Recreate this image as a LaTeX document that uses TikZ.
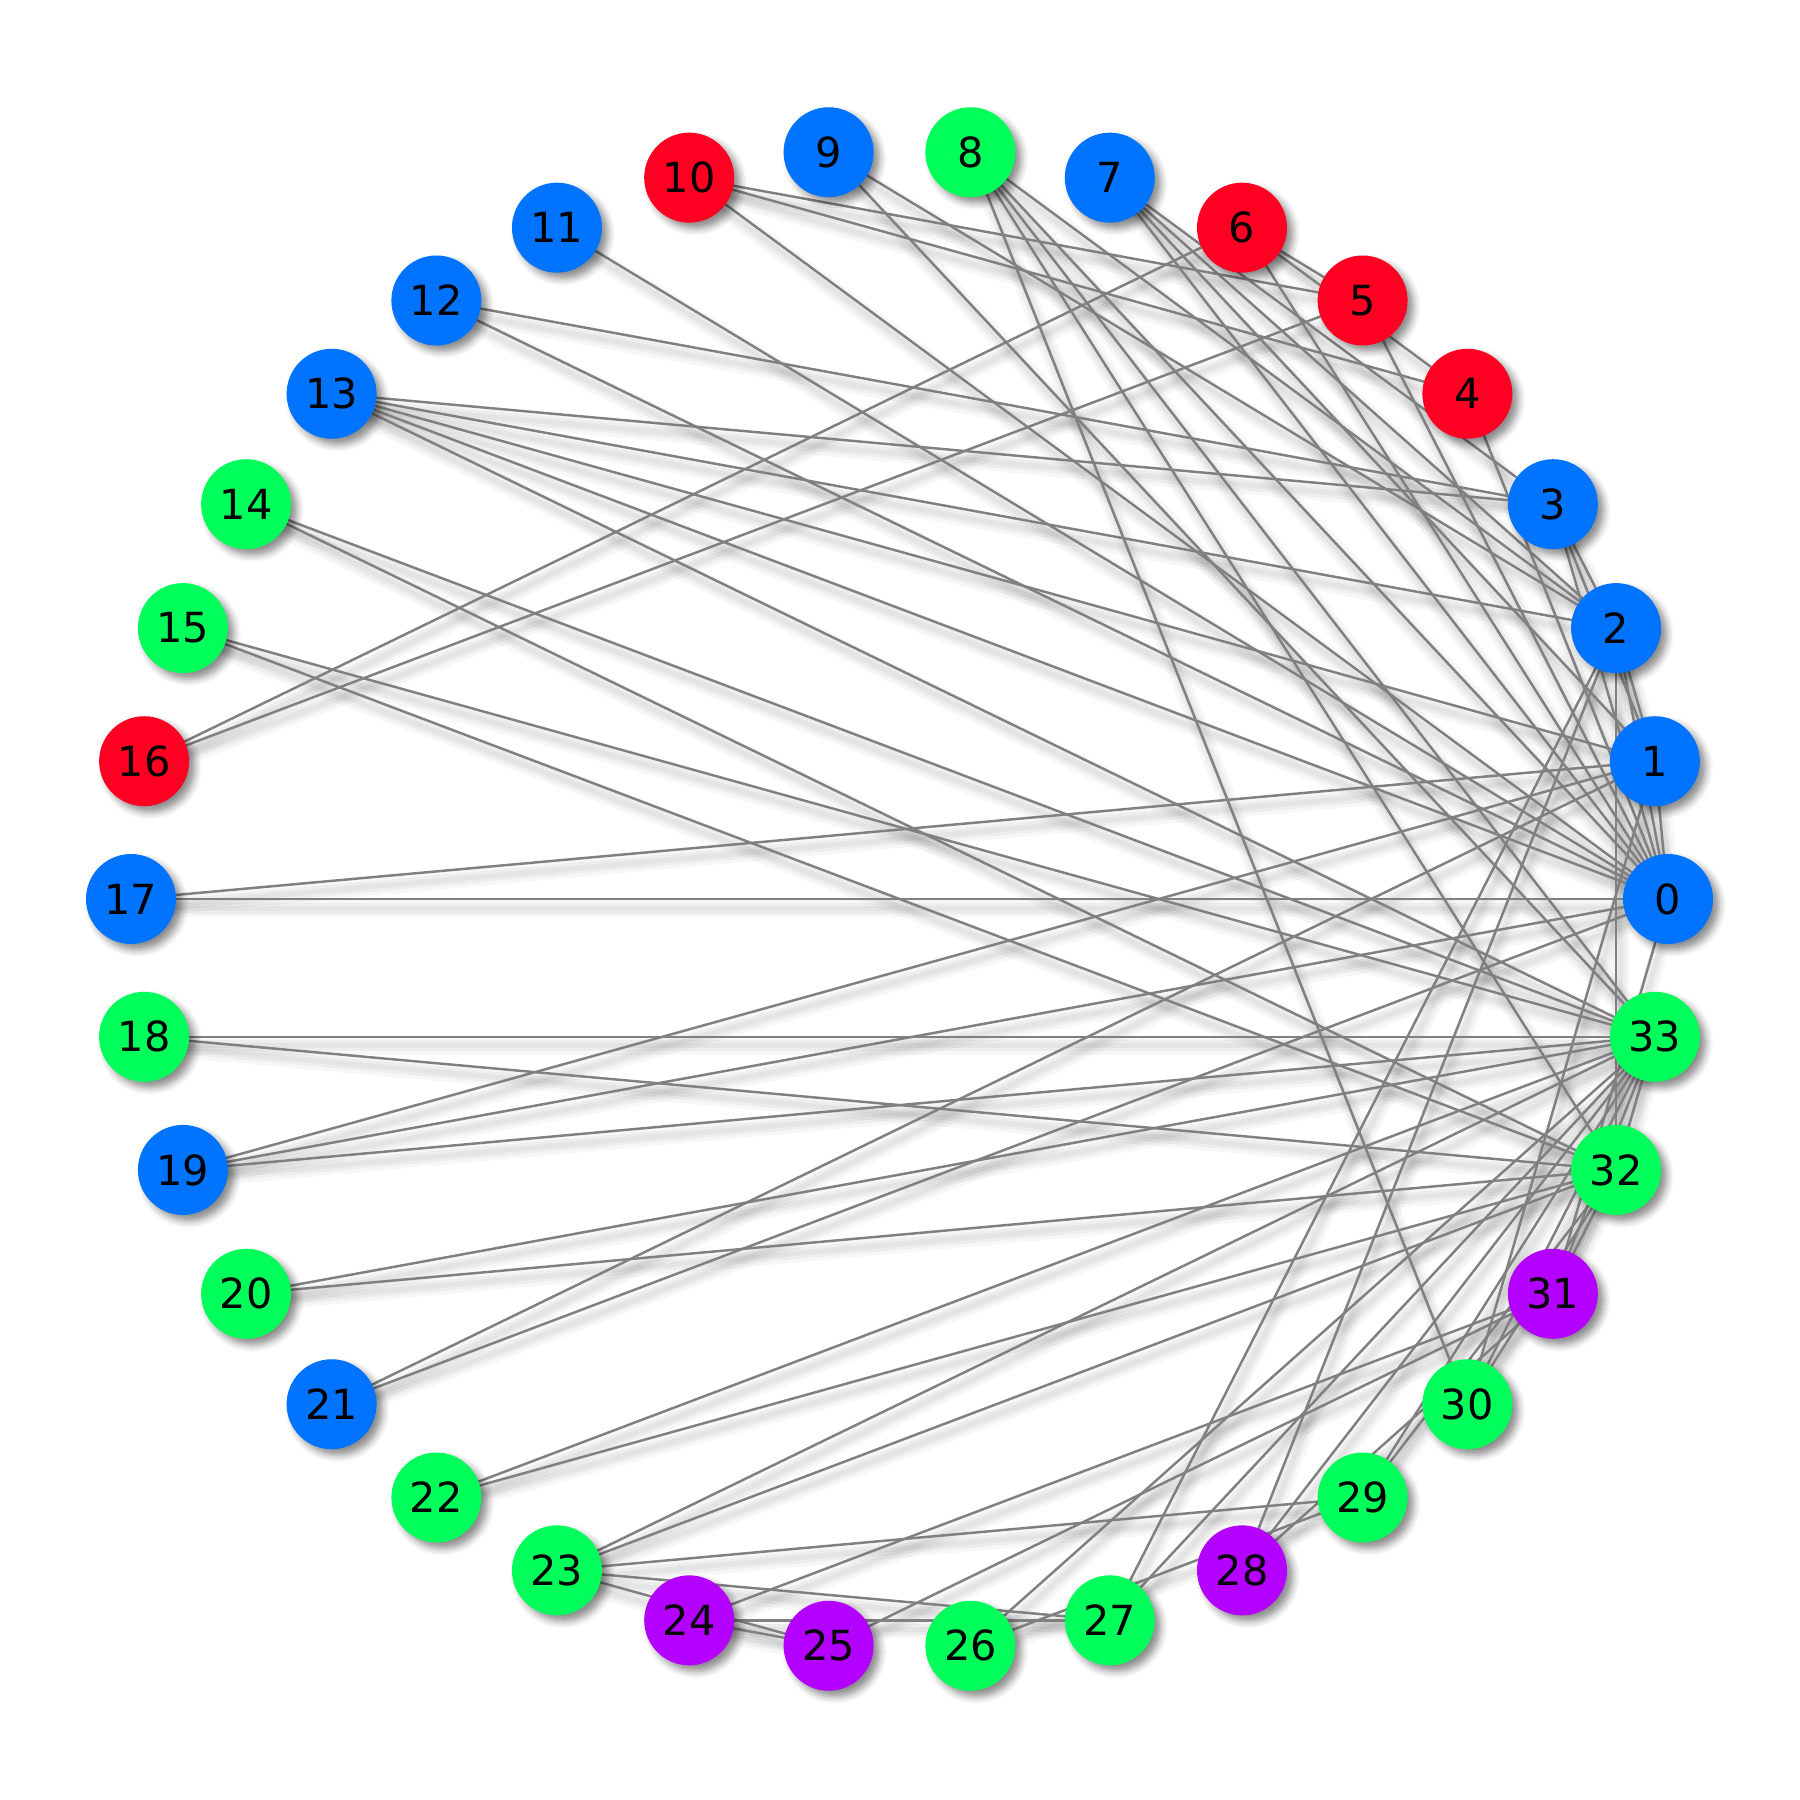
\documentclass[tikz,border=0pt]{standalone}
\usepackage{fontspec}
\setmainfont{DejaVu Sans}
\usetikzlibrary{backgrounds,shadows.blur}
\definecolor{cblue}{RGB}{0,115,255}
\definecolor{cred}{RGB}{255,0,34}
\definecolor{cgreen}{RGB}{0,255,90}
\definecolor{cpurp}{RGB}{179,0,255}
\definecolor{edgegray}{RGB}{128,128,128}
\tikzset{
  vert/.style={circle, inner sep=0pt, minimum size=0.9cm, text=black,
    font=\fontsize{11.8}{12}\selectfont,
    blur shadow={shadow xshift=0.06cm, shadow yshift=-0.06cm, shadow blur radius=0.07cm, shadow opacity=45}},
  edgeline/.style={draw=edgegray, line width=0.7pt},
  eshadowA/.style={draw=black, line width=0.18cm, opacity=0.03},
  eshadowB/.style={draw=black, line width=0.11cm, opacity=0.04},
  eshadowC/.style={draw=black, line width=0.05cm, opacity=0.04},
}
\begin{document}
\begin{tikzpicture}
\useasboundingbox (-8.995,-9.01) rectangle (9.005,8.99);
\foreach \i/\c in {0/cblue,1/cblue,2/cblue,3/cblue,4/cred,5/cred,6/cred,7/cblue,8/cgreen,9/cblue,10/cred,11/cblue,12/cblue,13/cblue,14/cgreen,15/cgreen,16/cred,17/cblue,18/cgreen,19/cblue,20/cgreen,21/cblue,22/cgreen,23/cgreen,24/cpurp,25/cpurp,26/cgreen,27/cgreen,28/cpurp,29/cgreen,30/cgreen,31/cpurp,32/cgreen,33/cgreen}
  \node[vert, fill=\c] (n\i) at ({\i*360/34}:7.685cm and 7.5cm) {\i};
\begin{scope}[on background layer]
  \foreach \a/\b in {0/1,0/2,0/3,0/4,0/5,0/6,0/7,0/8,0/10,0/11,0/12,0/13,0/17,0/19,0/21,0/31,1/2,1/3,1/7,1/13,1/17,1/19,1/21,1/30,2/3,2/7,2/8,2/9,2/13,2/27,2/28,2/32,3/7,3/12,3/13,4/6,4/10,5/6,5/10,5/16,6/16,8/30,8/32,8/33,9/33,13/33,14/32,14/33,15/32,15/33,18/32,18/33,19/33,20/32,20/33,22/32,22/33,23/25,23/27,23/29,23/32,23/33,24/25,24/27,24/31,25/31,26/29,26/33,27/33,28/31,28/33,29/32,29/33,30/32,30/33,31/32,31/33,32/33}
  {
    \draw[eshadowA] ([shift={(0.04cm,-0.09cm)}]n\a.center) -- ([shift={(0.04cm,-0.09cm)}]n\b.center);
    \draw[eshadowB] ([shift={(0.04cm,-0.09cm)}]n\a.center) -- ([shift={(0.04cm,-0.09cm)}]n\b.center);
    \draw[eshadowC] ([shift={(0.04cm,-0.09cm)}]n\a.center) -- ([shift={(0.04cm,-0.09cm)}]n\b.center);
  }
  \foreach \a/\b in {0/1,0/2,0/3,0/4,0/5,0/6,0/7,0/8,0/10,0/11,0/12,0/13,0/17,0/19,0/21,0/31,1/2,1/3,1/7,1/13,1/17,1/19,1/21,1/30,2/3,2/7,2/8,2/9,2/13,2/27,2/28,2/32,3/7,3/12,3/13,4/6,4/10,5/6,5/10,5/16,6/16,8/30,8/32,8/33,9/33,13/33,14/32,14/33,15/32,15/33,18/32,18/33,19/33,20/32,20/33,22/32,22/33,23/25,23/27,23/29,23/32,23/33,24/25,24/27,24/31,25/31,26/29,26/33,27/33,28/31,28/33,29/32,29/33,30/32,30/33,31/32,31/33,32/33}
    \draw[edgeline] (n\a.center) -- (n\b.center);
\end{scope}
\end{tikzpicture}
\end{document}
